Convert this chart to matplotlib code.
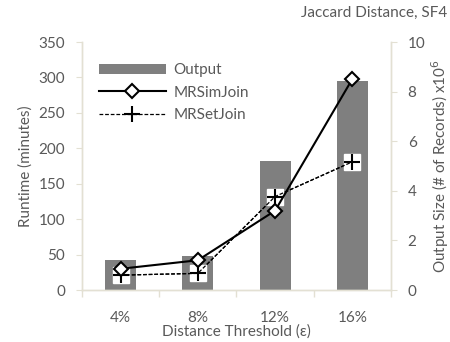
import matplotlib.pyplot as plt
import numpy as np

plt.rcParams['font.family'] = ['Lato', 'DejaVu Sans']

categories = ["4%", "8%", "12%", "16%"]
output_size = [1.2, 1.37, 5.2, 8.43]          # x10^6 records (right axis)
mrsimjoin = [30, 42, 112, 298]                # runtime in minutes
mrsetjoin = [21, 23.5, 132, 181]

txt = '#595959'
spine = '#e3e0d3'
fs = 11

fig = plt.figure(figsize=(4.5, 3.42), dpi=100)
ax = fig.add_axes([0.182, 0.152, 0.687, 0.725])
ax2 = ax.twinx()
ax.set_zorder(ax2.get_zorder() + 1)
ax.patch.set_visible(False)

x = np.arange(len(categories))
ax2.bar(x, output_size, 0.4, color='#7f7f7f', label='Output')

ax.plot(x, mrsimjoin, color='k', lw=1.5, marker='D', ms=7.5, mfc='white',
        mec='k', mew=1.5, label='MRSimJoin', zorder=4)
ax.plot(x, mrsetjoin, color='k', lw=0.9, ls=(0, (3, 1.5)), zorder=3)
ax.plot(x, mrsetjoin, ls='none', marker='s', ms=11, mfc='white', mec='white', zorder=3)
ax.plot(x, mrsetjoin, color='k', lw=0.9, ls=(0, (3, 1.5)), marker='+', ms=11,
        mew=1.5, label='MRSetJoin', zorder=3)

ax.set_xlim(-0.5, 3.5)
ax.set_ylim(0, 350)
ax.set_yticks(range(0, 351, 50))
ax2.set_ylim(0, 10)
ax2.set_yticks(range(0, 11, 2))
ax.set_xticks(x)
ax.set_xticklabels(categories)
ax.set_xticks(np.arange(-0.5, 4, 1), minor=True)
ax.tick_params(axis='x', which='major', length=0, pad=15, colors=txt, labelsize=fs)
ax.tick_params(axis='x', which='minor', length=5, color=spine, width=1)
ax.tick_params(axis='y', length=4, color=spine, colors=txt, labelsize=fs, pad=8)
ax2.tick_params(axis='y', length=4, color=spine, colors=txt, labelsize=fs, pad=8)

for a in (ax, ax2):
    for s in a.spines.values():
        s.set_color(spine)
        s.set_linewidth(1)
    a.spines['top'].set_visible(False)

ax.set_ylabel('Runtime (minutes)', color=txt, fontsize=fs, labelpad=4)
ax2.set_ylabel('Output Size (# of Records) x10$^6$', color=txt, fontsize=fs, labelpad=3)
ax.set_xlabel('Distance Threshold (ε)', color=txt, fontsize=fs, labelpad=0)
fig.text(0.993, 0.962, 'Jaccard Distance, SF4', ha='right', va='center', color=txt, fontsize=fs)

h2, l2 = ax2.get_legend_handles_labels()
h1, l1 = ax.get_legend_handles_labels()
leg = ax.legend(h2 + h1, l2 + l1, loc='upper left', bbox_to_anchor=(0.01, 0.97),
                frameon=False, fontsize=fs, handlelength=4.4, labelspacing=0.55,
                handletextpad=0.5)
for t in leg.get_texts():
    t.set_color(txt)

fig.savefig('out.png', dpi=100)
